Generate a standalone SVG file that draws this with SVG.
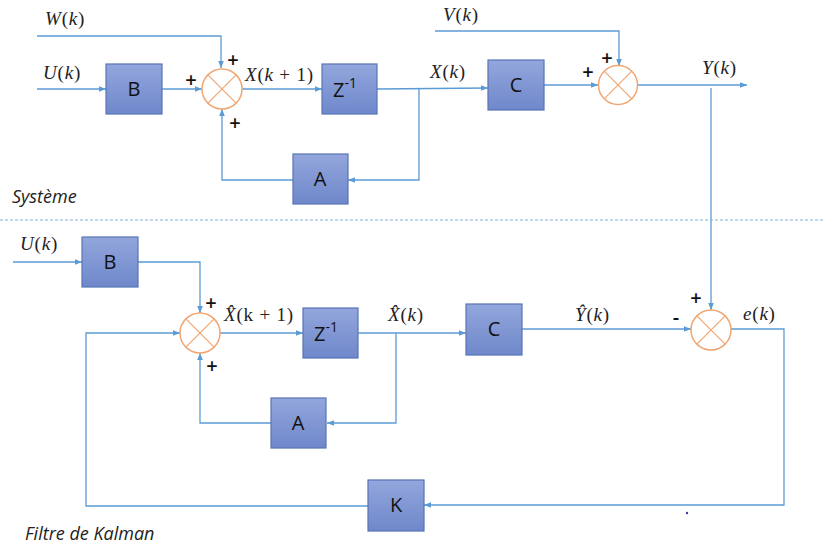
<svg xmlns="http://www.w3.org/2000/svg" width="825" height="548" viewBox="0 0 825 548">
<defs>
<linearGradient id="bg" x1="0" y1="0" x2="0" y2="1">
<stop offset="0" stop-color="#93a6dc"/>
<stop offset="1" stop-color="#6f88cb"/>
</linearGradient>
<marker id="ar" viewBox="0 0 10 10" refX="10" refY="5" markerWidth="7" markerHeight="7" markerUnits="userSpaceOnUse" orient="auto">
<path d="M0,1 L10,5 L0,9 z" fill="#5b9bd5"/>
</marker>
<style>
.box{fill:url(#bg);stroke:#5873b6;stroke-width:1.2}
.bt{font-family:"Open Sans","Liberation Sans",sans-serif;font-size:20px;fill:#111;text-anchor:middle}
.sum{fill:#fff;stroke:#f0a673;stroke-width:1.5}
.sx{stroke:#f0a673;stroke-width:1.2}
.ln{fill:none;stroke:#5b9bd5;stroke-width:1.3;marker-end:url(#ar)}
.m{font-family:"Liberation Serif","DejaVu Serif",serif;font-size:19px;letter-spacing:0.8px;fill:#222}
.i{font-style:italic}
.pm{font-family:"Open Sans","Liberation Sans",sans-serif;font-size:20px;fill:#111;text-anchor:middle;font-weight:600}
.cap{font-family:"Open Sans","Liberation Sans",sans-serif;font-size:18px;font-style:italic;fill:#222}
</style>
</defs>
<rect width="825" height="548" fill="#fff"/>

<g id="connectors">
<polyline class="ln" points="37,36 221,36 221,68"/>
<polyline class="ln" points="37,89 106,89"/>
<polyline class="ln" points="162,89 202,89"/>
<polyline class="ln" points="242,89 322,89"/>
<polyline class="ln" points="377,89 488,88"/>
<polyline class="ln" points="419,89 419,180 348,180"/>
<polyline class="ln" points="293,180 222,180 222,109"/>
<polyline class="ln" points="435,31 619,31 619,66"/>
<polyline class="ln" points="544,85 598,85"/>
<polyline class="ln" points="637,85 747,85"/>
<polyline class="ln" points="711,88 711,310"/>
<polyline class="ln" points="13,262 82,262"/>
<polyline class="ln" points="138,262 200,262 200,313"/>
<polyline class="ln" points="220,333 303,333"/>
<polyline class="ln" points="358,333 466,333"/>
<polyline class="ln" points="396,333 396,423 327,423"/>
<polyline class="ln" points="271,423 200,423 200,353"/>
<polyline class="ln" points="522,329 691,329"/>
<polyline class="ln" points="731,329 784,329 784,505 424,505"/>
<polyline class="ln" points="368,506 86,506 86,333 180,333"/>
<line x1="0" y1="220" x2="825" y2="220" stroke="#7fb0dc" stroke-width="1" stroke-dasharray="3,2"/>
</g>

<g id="sys-B"><rect class="box" x="106" y="64" width="56" height="50"/><text class="bt" x="134" y="96">B</text></g>
<g id="sys-Z"><rect class="box" x="322" y="64" width="55" height="50"/><text class="bt" x="345" y="97">Z<tspan font-size="14" dy="-9">-1</tspan></text></g>
<g id="sys-A"><rect class="box" x="293" y="154" width="55" height="50"/><text class="bt" x="320" y="186">A</text></g>
<g id="sys-C"><rect class="box" x="488" y="60" width="56" height="50"/><text class="bt" x="516" y="92">C</text></g>
<g id="sys-sum1"><circle class="sum" cx="222" cy="89" r="20"/><line class="sx" x1="207.9" y1="74.9" x2="236.1" y2="103.1"/><line class="sx" x1="236.1" y1="74.9" x2="207.9" y2="103.1"/></g>
<g id="sys-sum2"><circle class="sum" cx="618" cy="85" r="19.5"/><line class="sx" x1="604.2" y1="71.2" x2="631.8" y2="98.8"/><line class="sx" x1="631.8" y1="71.2" x2="604.2" y2="98.8"/></g>

<g id="kf-B"><rect class="box" x="82" y="237" width="56" height="50"/><text class="bt" x="110" y="269">B</text></g>
<g id="kf-Z"><rect class="box" x="303" y="308" width="55" height="50"/><text class="bt" x="326" y="341">Z<tspan font-size="14" dy="-9">-1</tspan></text></g>
<g id="kf-A"><rect class="box" x="271" y="398" width="55" height="50"/><text class="bt" x="298" y="430">A</text></g>
<g id="kf-C"><rect class="box" x="466" y="304" width="56" height="51"/><text class="bt" x="494" y="336">C</text></g>
<g id="kf-K"><rect class="box" x="368" y="480" width="56" height="51"/><text class="bt" x="396" y="512">K</text></g>
<g id="kf-sum1"><circle class="sum" cx="200" cy="333" r="20"/><line class="sx" x1="185.9" y1="318.9" x2="214.1" y2="347.1"/><line class="sx" x1="214.1" y1="318.9" x2="185.9" y2="347.1"/></g>
<g id="kf-sum2"><circle class="sum" cx="711" cy="330" r="20"/><line class="sx" x1="696.9" y1="315.9" x2="725.1" y2="344.1"/><line class="sx" x1="725.1" y1="315.9" x2="696.9" y2="344.1"/></g>

<g id="labels">
<text class="m" x="45" y="25"><tspan class="i">W</tspan>(<tspan class="i">k</tspan>)</text>
<text class="m" x="43" y="79"><tspan class="i">U</tspan>(<tspan class="i">k</tspan>)</text>
<text class="m" x="245" y="81"><tspan class="i">X</tspan>(<tspan class="i">k</tspan> + 1)</text>
<text class="m" x="430" y="78"><tspan class="i">X</tspan>(<tspan class="i">k</tspan>)</text>
<text class="m" x="443" y="21"><tspan class="i">V</tspan>(<tspan class="i">k</tspan>)</text>
<text class="m" x="702" y="74"><tspan class="i">Y</tspan>(<tspan class="i">k</tspan>)</text>
<text class="m" x="20" y="250"><tspan class="i">U</tspan>(<tspan class="i">k</tspan>)</text>
<text class="m" x="224" y="321"><tspan class="i">X&#x302;</tspan>(k + 1)</text>
<text class="m" x="388" y="321"><tspan class="i">X&#x302;</tspan>(<tspan class="i">k</tspan>)</text>
<text class="m" x="575" y="321"><tspan class="i">Y&#x302;</tspan>(<tspan class="i">k</tspan>)</text>
<text class="m" x="743" y="320"><tspan class="i">e</tspan>(<tspan class="i">k</tspan>)</text>
<text class="pm" x="233" y="67">+</text>
<text class="pm" x="191" y="87">+</text>
<text class="pm" x="235" y="130">+</text>
<text class="pm" x="607" y="65">+</text>
<text class="pm" x="588" y="79">+</text>
<text class="pm" x="211" y="310">+</text>
<text class="pm" x="212" y="373">+</text>
<text class="pm" x="696" y="305">+</text>
<text class="pm" x="676" y="324">-</text>
<text class="cap" x="12" y="203">Système</text>
<text class="cap" x="25" y="540">Filtre de Kalman</text>
</g>
<circle cx="687" cy="513" r="1.2" fill="#3a3aa0"/>
</svg>
